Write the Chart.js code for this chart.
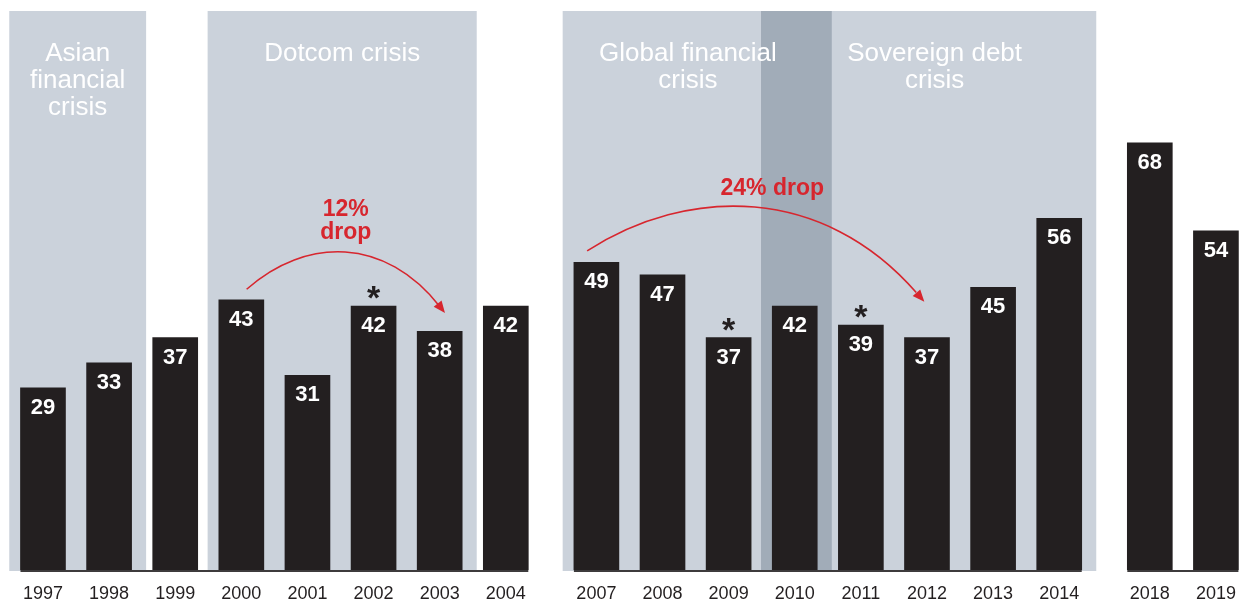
<!DOCTYPE html>
<html>
<head>
<meta charset="utf-8">
<script src="https://cdn.jsdelivr.net/npm/chart.js@4.4.1/dist/chart.umd.min.js"></script>
<style>
  html, body { margin: 0; padding: 0; background: #fff; }
  #chart { display: block; }
</style>
</head>
<body>
<canvas id="chart" width="1247" height="604"></canvas>
<script>
// 데이터
const years = ['1997','1998','1999','2000','2001','2002','2003','2004',
               '2007','2008','2009','2010','2011','2012','2013','2014',
               '2018','2019'];
const shares = [29, 33, 37, 43, 31, 42, 38, 42,
                49, 47, 37, 42, 39, 37, 45, 56,
                68, 54];
const breakBefore = ['2007', '2018'];   // 앞쪽에 간격이 있는 연도
const starred = ['2002', '2009', '2011'];

// 위기 구간
const crisisNames = [['Asian', 'financial', 'crisis'], ['Dotcom crisis'],
                     ['Global financial', 'crisis'], ['Sovereign debt', 'crisis']];
const crisisFrom = ['1997', '2000', '2007', '2010'];
const crisisTo   = ['1998', '2003', '2010', '2014'];

// 하락 화살표
const dropLabels = [['12%', 'drop'], ['24% drop']];
const dropFrom   = ['2000', '2007'];
const dropTo     = ['2003', '2012'];
const dropFromY  = [44.7, 50.8];
const dropToY    = [40.9, 42.7];
const dropApexY  = [50.5, 57.6];

const GAP = 0.37;
const FONT = "'Liberation Sans', Arial, Helvetica, sans-serif";
const INK = '#231f20';
const RED = '#d7262e';

// 연도별 x 위치 (간격 포함)
const positions = years.map((y, i) => i + GAP * breakBefore.filter(b => y >= b).length);
const posOf = (y) => positions[years.indexOf(y)];

const groups = [];
years.forEach((y, i) => {
  if (i === 0 || breakBefore.includes(y)) groups.push([]);
  groups[groups.length - 1].push(i);
});

const overlayPlugin = {
  id: 'overlay',
  beforeDatasetsDraw(chart) {
    const ctx = chart.ctx;
    const xs = chart.scales.x;
    const area = chart.chartArea;
    const spans = crisisFrom.map((f, i) => [posOf(f) - 0.51, posOf(crisisTo[i]) + 0.56]);
    ctx.save();
    ctx.fillStyle = '#cbd2db';
    spans.forEach(s => {
      const l = xs.getPixelForValue(s[0]), r = xs.getPixelForValue(s[1]);
      ctx.fillRect(l, area.top, r - l, area.bottom - area.top + 1);
    });
    // 겹치는 구간은 진하게
    ctx.fillStyle = '#a1acb8';
    for (let i = 0; i < spans.length; i++) {
      for (let j = i + 1; j < spans.length; j++) {
        const a = Math.max(spans[i][0], spans[j][0]);
        const b = Math.min(spans[i][1], spans[j][1]);
        if (b > a) {
          const l = xs.getPixelForValue(a), r = xs.getPixelForValue(b);
          ctx.fillRect(l, area.top, r - l, area.bottom - area.top + 1);
        }
      }
    }
    // 라벨
    const labelShift = [0, 0, -0.14, 0.09];
    ctx.fillStyle = '#ffffff';
    ctx.font = '26px ' + FONT;
    ctx.textAlign = 'center';
    ctx.textBaseline = 'middle';
    crisisNames.forEach((lines, i) => {
      const cx = xs.getPixelForValue((spans[i][0] + spans[i][1]) / 2 + labelShift[i]);
      lines.forEach((t, k) => ctx.fillText(t, cx, area.top + 43 + k * 27));
    });
    ctx.restore();
  },
  afterDatasetsDraw(chart) {
    const ctx = chart.ctx;
    const xs = chart.scales.x, ys = chart.scales.y;
    const area = chart.chartArea;
    const bars = chart.getDatasetMeta(0).data;
    ctx.save();

    // 기준선
    ctx.strokeStyle = '#3d3b3c';
    ctx.lineWidth = 2;
    groups.forEach(g => {
      const a = bars[g[0]], b = bars[g[g.length - 1]];
      ctx.beginPath();
      ctx.moveTo(a.x - a.width / 2, area.bottom + 1);
      ctx.lineTo(b.x + b.width / 2, area.bottom + 1);
      ctx.stroke();
    });

    // 값 라벨
    ctx.fillStyle = '#ffffff';
    ctx.font = 'bold 22px ' + FONT;
    ctx.textAlign = 'center';
    ctx.textBaseline = 'middle';
    bars.forEach((bar, i) => ctx.fillText(String(shares[i]), bar.x, bar.y + 20));

    // 별표
    ctx.fillStyle = INK;
    ctx.font = 'bold 34px ' + FONT;
    ctx.textBaseline = 'alphabetic';
    starred.forEach(y => {
      const bar = bars[years.indexOf(y)];
      ctx.fillText('*', bar.x, bar.y + 3);
    });

    // 하락 화살표
    const xOff = [[0.08, 0.08], [-0.14, -0.04]];
    const textShift = [0, 0.25];
    dropFrom.forEach((f, i) => {
      const x0 = xs.getPixelForValue(posOf(f) + xOff[i][0]);
      const y0 = ys.getPixelForValue(dropFromY[i]);
      const x3 = xs.getPixelForValue(posOf(dropTo[i]) + xOff[i][1]);
      const y3 = ys.getPixelForValue(dropToY[i]);
      const apex = ys.getPixelForValue(dropApexY[i]);
      const yc = (apex - 0.125 * (y0 + y3)) / 0.75;
      const dx = (x3 - x0) * 0.3;
      const c1x = x0 + dx, c2x = x3 - dx;

      ctx.strokeStyle = RED;
      ctx.lineWidth = 1.6;
      ctx.beginPath();
      ctx.moveTo(x0, y0);
      ctx.bezierCurveTo(c1x, yc, c2x, yc, x3 - (x3 - c2x) * 0.08, y3 - (y3 - yc) * 0.08);
      ctx.stroke();

      // 화살촉
      const ang = Math.atan2(y3 - yc, x3 - c2x);
      const len = 12, half = 5;
      ctx.fillStyle = RED;
      ctx.beginPath();
      ctx.moveTo(x3, y3);
      ctx.lineTo(x3 - len * Math.cos(ang) + half * Math.sin(ang), y3 - len * Math.sin(ang) - half * Math.cos(ang));
      ctx.lineTo(x3 - len * Math.cos(ang) - half * Math.sin(ang), y3 - len * Math.sin(ang) + half * Math.cos(ang));
      ctx.closePath();
      ctx.fill();

      // 텍스트
      ctx.font = 'bold 23px ' + FONT;
      ctx.textBaseline = 'middle';
      const tx = (x0 + x3) / 2 + textShift[i] * (xs.getPixelForValue(1) - xs.getPixelForValue(0));
      const lines = dropLabels[i];
      lines.forEach((t, k) => {
        ctx.fillText(t, tx, apex - 20 - (lines.length - 1 - k) * 23);
      });
    });
    ctx.restore();
  }
};

const chart = new Chart(document.getElementById('chart'), {
  type: 'bar',
  data: {
    datasets: [{
      data: years.map((y, i) => ({ x: positions[i], y: shares[i] })),
      backgroundColor: INK,
      borderWidth: 0,
      barThickness: 45
    }]
  },
  options: {
    responsive: false,
    animation: false,
    layout: { padding: { top: 11, left: 0, right: 0, bottom: 0 } },
    plugins: {
      legend: { display: false },
      tooltip: { enabled: false }
    },
    scales: {
      x: {
        type: 'linear',
        offset: false,
        min: -0.65,
        max: 18.21,
        grid: { display: false, drawTicks: false, offset: false },
        border: { display: false },
        afterBuildTicks: (scale) => {
          scale.ticks = positions.map(v => ({ value: v }));
        },
        afterFit: (scale) => {
          scale.height = 34;
          scale.paddingLeft = 0;
          scale.paddingRight = 0;
        },
        ticks: {
          autoSkip: false,
          maxRotation: 0,
          padding: 13,
          color: INK,
          font: { size: 18, family: FONT },
          callback: (v, i) => years[i]
        }
      },
      y: {
        display: false,
        min: 0,
        max: 89
      }
    }
  },
  plugins: [overlayPlugin]
});
</script>
</body>
</html>
